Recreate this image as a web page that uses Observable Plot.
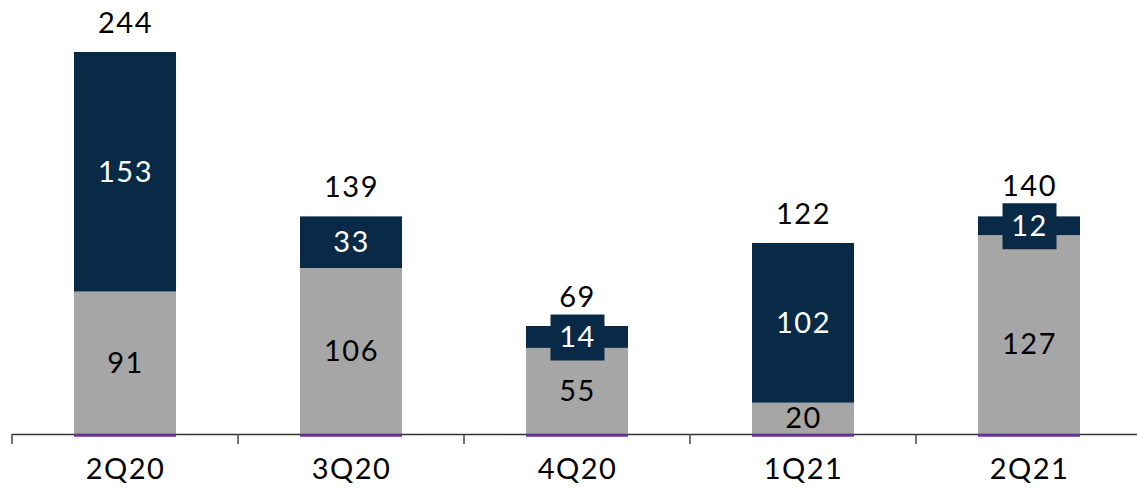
<!DOCTYPE html>
<html><head><meta charset="utf-8">
<script src="https://cdn.jsdelivr.net/npm/d3@7"></script>
<script src="https://cdn.jsdelivr.net/npm/@observablehq/plot@0.6"></script>
<style>body{margin:0;background:#fff} svg{display:block}</style>
</head><body><div id="chart"></div>
<script>
const quarters = ["2Q20","3Q20","4Q20","1Q21","2Q21"];
const lowerValues = [91,106,55,20,127];
const upperValues = [153,33,14,102,12];
const totals = [244,139,69,122,140];
const boxedUpper = [false,false,true,false,true];
const seriesNames = ["lower","upper"];
const seriesColors = ["#A6A6A6","#082A47"];

const rows = [];
quarters.forEach((q,i) => {
  rows.push({q, series:"lower", v: lowerValues[i], mid: lowerValues[i]/2});
  rows.push({q, series:"upper", v: upperValues[i], mid: lowerValues[i] + upperValues[i]/2, boxed: boxedUpper[i]});
});
const totalRows = quarters.map((q,i) => ({q, total: totals[i]}));
const baseRows = quarters.map(q => ({q, base: 0}));

const boxSymbol = { draw(ctx) { ctx.rect(-27, -23, 54, 46); } };

function boundaryTicks(index, scales) {
  const x = scales.x, y = scales.y;
  const bw = typeof x.bandwidth === "function" ? x.bandwidth() : (x.bandwidth || 0);
  const step = typeof x.step === "function" ? x.step() : (x(quarters[1]) - x(quarters[0]));
  const y0 = y(0);
  const g = d3.create("svg:g");
  quarters.forEach(q => {
    const bx = x(q) + bw/2 - step/2;
    g.append("line").attr("x1", bx).attr("x2", bx).attr("y1", y0).attr("y2", y0 + 10)
      .attr("stroke", "#444").attr("stroke-width", 1.5);
  });
  return g.node();
}

const lowerRows = rows.filter(d => d.series === "lower");
const shifted = q => q === "2Q21";

const chart = Plot.plot({
  width: 1137, height: 490,
  marginLeft: 12, marginRight: 0, marginTop: 52, marginBottom: 56,
  style: {fontFamily: "Lato, sans-serif", fontSize: "28px", color: "#000", background: "#fff"},
  x: {type: "band", domain: quarters, range: [12, 1142], paddingInner: 0.549, paddingOuter: 0.2745, axis: null, label: null},
  y: {domain: [0, 244], axis: null},
  color: {domain: seriesNames, range: seriesColors},
  marks: [
    Plot.barY(rows, {x: "q", y: "v", fill: "series"}),
    Plot.ruleY([0], {stroke: "#333", strokeWidth: 1.5}),
    Plot.tickY(baseRows, {x: "q", y: "base", stroke: "#7030A0", strokeWidth: 2.5, dy: 1}),
    boundaryTicks,
    Plot.dot(rows.filter(d => d.boxed), {x: "q", y: "mid", symbol: boxSymbol, fill: "#082A47", r: 10}),
    Plot.text(lowerRows.filter(d => !shifted(d.q)), {x: "q", y: "mid", text: d => String(d.v), fill: "#000", fontSize: 29}),
    Plot.text(lowerRows.filter(d => shifted(d.q)), {x: "q", y: "mid", text: d => String(d.v), fill: "#000", fontSize: 29, dy: 10}),
    Plot.text(rows.filter(d => d.series === "upper"), {x: "q", y: "mid", text: d => String(d.v), fill: "#fff", fontSize: 29}),
    Plot.text(totalRows, {x: "q", y: "total", text: d => String(d.total), fill: "#000", fontSize: 29, dy: -29}),
    Plot.axisX({domain: quarters, tickSize: 0, tickPadding: 24, fontSize: 29, fill: "#000", label: null})
  ]
});
d3.select(chart).selectAll("text").style("letter-spacing", "1.5px");
document.getElementById("chart").append(chart);
</script>
</body></html>
